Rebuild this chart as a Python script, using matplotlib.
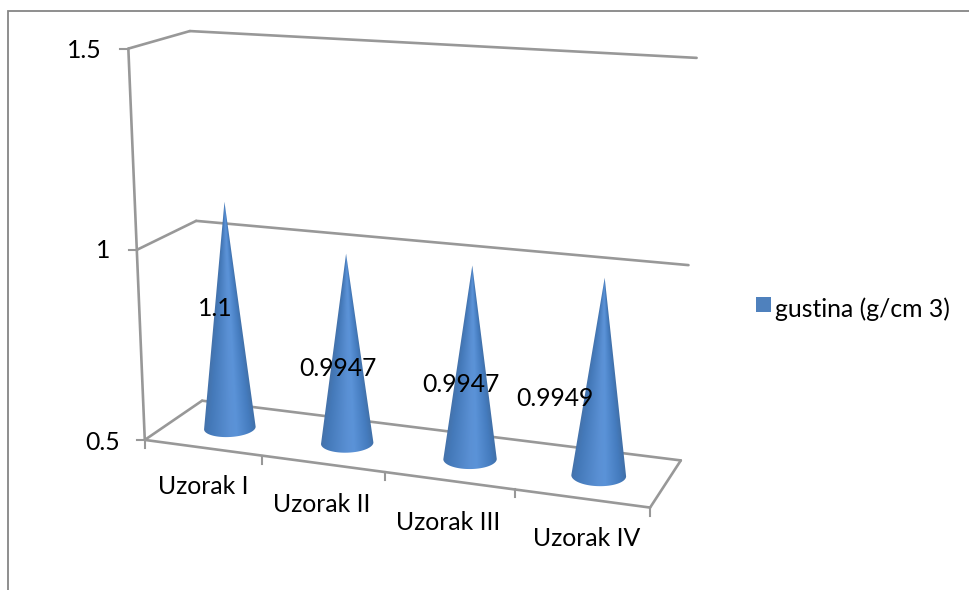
import numpy as np
import matplotlib
matplotlib.use("Agg")
import matplotlib.pyplot as plt
from matplotlib.colors import LinearSegmentedColormap
from matplotlib.patches import Polygon, Rectangle

# ---- data ----
categories = ["Uzorak I", "Uzorak II", "Uzorak III", "Uzorak IV"]
values = [1.1, 0.9947, 0.9947, 0.9949]
value_labels = ["1.1", "0.9947", "0.9947", "0.9949"]
z_ticks = [0.5, 1.0, 1.5]
z_tick_labels = ["0.5", "1", "1.5"]
series_name = "gustina (g/cm 3)"

# ---- layout (pixels of the 970x590 canvas) ----
W, H = 970, 590
GREY = "#989898"
FRAME = "#868686"
FONT = "Lato"
FS = 17.8
# (x, depth, z) -> pixel anchors of the chart box, used to fit the 3D camera
anchors = [
    ((0, 0, 0.5), (145, 440)), ((0, 0, 1.0), (137, 249)), ((0, 0, 1.5), (128, 49)),
    ((0, 1, 0.5), (202, 401)), ((0, 1, 1.0), (196, 221)), ((0, 1, 1.5), (190, 31)),
    ((4, 1, 0.5), (681, 460)), ((4, 1, 1.0), (688, 265)), ((4, 1, 1.5), (697, 58)),
    ((4, 0, 0.5), (650, 508)),
]
cone_radius_x = 0.2
cone_radius_d = 0.215
cone_depth = 0.48
value_label_xy = [(215, 309), (338, 368), (461, 384), (555, 398)]
cat_label_xy = [(203, 487), (322, 504), (448, 522), (587, 539)]
z_label_right = [120, 110, 102]
z_label_y = [442, 250, 50]


def fit_camera(pairs):
    rows = []
    for (x, d, z), (u, v) in pairs:
        p = [x, d, z, 1]
        rows.append(p + [0, 0, 0, 0] + [-u * c for c in p])
        rows.append([0, 0, 0, 0] + p + [-v * c for c in p])
    _, _, vt = np.linalg.svd(np.array(rows, float))
    return vt[-1].reshape(3, 4)


CAM = fit_camera(anchors)


def proj(x, d, z):
    x, d, z = np.broadcast_arrays(np.asarray(x, float), np.asarray(d, float), np.asarray(z, float))
    p = np.stack([x, d, z, np.ones_like(x)])
    q = CAM @ p.reshape(4, -1)
    return (q[0] / q[2]).reshape(x.shape), (q[1] / q[2]).reshape(x.shape)


fig = plt.figure(figsize=(W / 100, H / 100), dpi=100)
ax = fig.add_axes([0, 0, 1, 1])
ax.set_xlim(0, W)
ax.set_ylim(H, 0)
ax.axis("off")

# outer chart frame (only top and left are visible)
ax.plot([8, 8, W], [H, 11, 11], color=FRAME, lw=1.3, zorder=1, solid_joinstyle="miter")


def seg(a, b, lw=1.9, z=2):
    xs, ys = proj([a[0], b[0]], [a[1], b[1]], [a[2], b[2]])
    ax.plot(xs, ys, color=GREY, lw=lw, zorder=z, solid_capstyle="round")


nx = len(categories)
zmin = z_ticks[0]
# gridlines on side and back walls
for zt in z_ticks:
    seg((0, 0, zt), (0, 1, zt))
    seg((0, 1, zt), (nx, 1, zt))
# vertical left edge, floor front and side
seg((0, 0, z_ticks[0]), (0, 0, z_ticks[-1]))
seg((0, 0, zmin), (nx, 0, zmin))
seg((nx, 0, zmin), (nx, 1, zmin))

# ticks
for zt, lab, xr, yl in zip(z_ticks, z_tick_labels, z_label_right, z_label_y):
    px, py = proj(0, 0, zt)
    ax.plot([px - 8, px], [py, py], color=GREY, lw=1.5, zorder=2)
    ax.text(xr, yl, lab, ha="right", va="center", fontsize=FS, family=FONT, color="black", zorder=6)
for i in range(nx + 1):
    px, py = proj(i, 0, zmin)
    ax.plot([px, px], [py, py + 8], color=GREY, lw=1.5, zorder=2)

# cones
cmap = LinearSegmentedColormap.from_list(
    "cone",
    [(0.0, "#4472aa"), (0.12, "#4479b9"), (0.5, "#5a90d4"), (0.62, "#5b93d8"),
     (0.88, "#457cbf"), (1.0, "#4170a8")],
)
theta = np.linspace(0, 2 * np.pi, 241)
for i, val in enumerate(values):
    cx = i + 0.5
    bx, by = proj(cx + cone_radius_x * np.cos(theta), cone_depth + cone_radius_d * np.sin(theta), zmin)
    tx, ty = proj(cx, 0.5, val)
    cxp, cyp = proj(cx, cone_depth, zmin)
    il, ir = int(np.argmin(bx)), int(np.argmax(bx))
    lower = by >= (by[il] + (by[ir] - by[il]) * (bx - bx[il]) / (bx[ir] - bx[il]))
    arc = np.column_stack([bx[lower], by[lower]])
    arc = arc[np.argsort(arc[:, 0])]
    poly = np.vstack([[float(tx), float(ty)], arc])
    x0, x1 = bx.min() - 1, bx.max() + 1
    y0, y1 = float(ty) - 1, by.max() + 1
    gx, gy = np.meshgrid(np.linspace(x0, x1, int((x1 - x0) * 3)), np.linspace(y0, y1, int((y1 - y0) * 2)))
    t = np.clip((gy - ty) / (cyp - ty), 1e-3, None)
    half = t * (bx.max() - bx.min()) / 2
    mid = tx + t * (cxp - tx)
    u = np.clip((gx - mid) / half, -1, 1) * 0.5 + 0.5
    im = ax.imshow(u, cmap=cmap, vmin=0, vmax=1, extent=(x0, x1, y1, y0), aspect="auto",
                   interpolation="bilinear", zorder=3)
    patch = Polygon(poly, closed=True, transform=ax.transData, fc="none", ec="none")
    ax.add_patch(patch)
    im.set_clip_path(patch)

ax.set_xlim(0, W)
ax.set_ylim(H, 0)

# data labels and category labels
for lab, (x, y) in zip(value_labels, value_label_xy):
    ax.text(x, y, lab, ha="center", va="center", fontsize=FS, family=FONT, color="black", zorder=6)
for lab, (x, y) in zip(categories, cat_label_xy):
    ax.text(x, y, lab, ha="center", va="center", fontsize=FS, family=FONT, color="black", zorder=6)

# legend
ax.add_patch(Rectangle((756, 297), 15, 15, fc="#4f81bd", ec="none", zorder=5))
ax.text(775, 309, series_name, ha="left", va="center", fontsize=FS, family=FONT, color="black", zorder=6)

fig.savefig("out.png", dpi=100)
